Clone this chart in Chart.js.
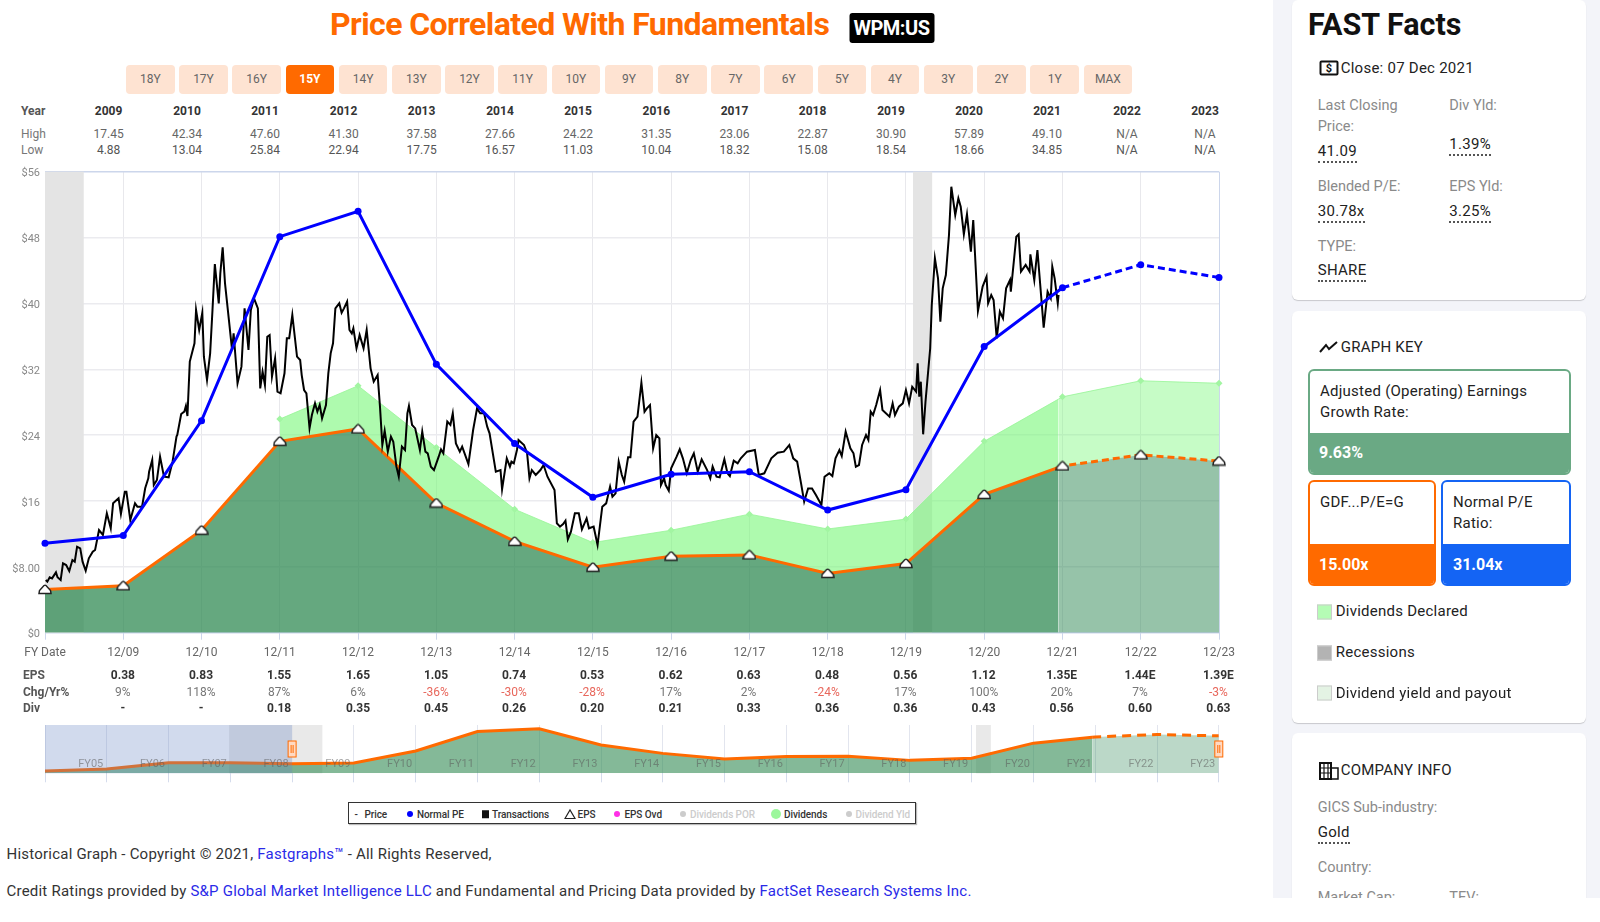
<!DOCTYPE html>
<html>
<head>
<meta charset="utf-8">
<title>Price Correlated With Fundamentals</title>
<script src="https://cdn.jsdelivr.net/npm/chart.js@4/dist/chart.umd.min.js"></script>
<style>
  html, body { margin: 0; padding: 0; background: #fff; }
  body { width: 1600px; height: 922px; position: relative; overflow: hidden; font-family: Roboto, sans-serif; color: #333; }
  canvas { position: absolute; }
  .t { position: absolute; white-space: nowrap; transform: translateY(-50%); }
  .c { position: absolute; white-space: nowrap; transform: translate(-50%, -50%); }
  .btn { position: absolute; top: 65px; width: 48.6px; height: 29px; line-height: 29px; text-align: center; font-size: 12px; color: #666; background: #fee3d2; border-radius: 4px; }
  .btn.on { background: #ff6a00; color: #fff; font-weight: 700; }
  #side { position: absolute; left: 1273px; top: 0; width: 327px; height: 898px; background: #f3f4f9; overflow: hidden; }
  .card { position: absolute; left: 19px; width: 294px; background: #fff; border-radius: 6px; box-shadow: 0 1px 1px rgba(0,0,0,.18); }
  .box { position: absolute; box-sizing: border-box; border: 2px solid; border-radius: 6px; overflow: hidden; background: #fff; }
  .val { position: absolute; font-size: 15px; line-height: 18px; height: 19px; color: #222; letter-spacing: .3px; border-bottom: 2px dotted #555; }
  .lg { position: absolute; top: 814px; transform: translateY(-50%); font-size: 10px; font-weight: 500; color: #333; white-space: nowrap; letter-spacing: -.08px; }
  .lg.off { color: #ccc; }
  .dot { position: absolute; border-radius: 50%; transform: translate(-50%, -50%); top: 814px; }
  a { color: #2a2ae8; text-decoration: none; }
</style>
</head>
<body>
<canvas id="mainChart" width="1273" height="510" style="left:0;top:160px"></canvas>
<canvas id="navChart" width="1273" height="75" style="left:0;top:715px"></canvas>
<div id="page"></div>
<div id="side"></div>
<script>
// chart data
const rangeButtons = ['18Y','17Y','16Y','15Y','14Y','13Y','12Y','11Y','10Y','9Y','8Y','7Y','6Y','5Y','4Y','3Y','2Y','1Y','MAX'];
const tableYears = ['2009','2010','2011','2012','2013','2014','2015','2016','2017','2018','2019','2020','2021','2022','2023'];
const tableHigh = ['17.45','42.34','47.60','41.30','37.58','27.66','24.22','31.35','23.06','22.87','30.90','57.89','49.10','N/A','N/A'];
const tableLow = ['4.88','13.04','25.84','22.94','17.75','16.57','11.03','10.04','18.32','15.08','18.54','18.66','34.85','N/A','N/A'];
const epsRow = ['0.38','0.83','1.55','1.65','1.05','0.74','0.53','0.62','0.63','0.48','0.56','1.12','1.35E','1.44E','1.39E'];
const chgRow = ['9%','118%','87%','6%','-36%','-30%','-28%','17%','2%','-24%','17%','100%','20%','7%','-3%'];
const divRow = ['-','-','0.18','0.35','0.45','0.26','0.20','0.21','0.33','0.36','0.36','0.43','0.56','0.60','0.63'];

const fyYears = [2008,2009,2010,2011,2012,2013,2014,2015,2016,2017,2018,2019,2020,2021,2022,2023];
const fairValue = [5.25,5.7,12.45,23.25,24.75,15.75,11.1,7.95,9.3,9.45,7.2,8.4,16.8,20.25,21.6,20.85];
const divTop = [null,null,null,25.95,30,22.5,15,10.95,12.45,14.4,12.6,13.8,23.25,28.65,30.6,30.3];
const normalPE = [10.86,11.8,25.76,48.11,51.2,32.6,22.97,16.45,19.24,19.56,14.9,17.38,34.76,41.9,44.7,43.15];
const zoneEdge = 2020.95, fairAtEdge = 20.08, divAtEdge = 28.38;
const recessions = [[2008,2008.495],[2019.09,2019.335]];

const priceX = [2008.01,2008.03,2008.06,2008.09,2008.14,2008.16,2008.20,2008.23,2008.27,2008.31,2008.35,2008.38,2008.41,2008.45,2008.48,2008.52,2008.56,2008.61,2008.64,2008.69,2008.74,2008.79,2008.84,2008.87,2008.94,2008.97,
  2009.02,2009.04,2009.09,2009.15,2009.18,2009.24,2009.28,2009.32,2009.33,2009.37,2009.39,2009.43,2009.47,2009.52,2009.58,2009.63,2009.68,2009.69,2009.74,2009.78,2009.80,2009.82,2009.85,2009.91,2009.93,2009.97,
  2010.01,2010.03,2010.07,2010.11,2010.14,2010.17,2010.22,2010.24,2010.27,2010.30,2010.35,2010.39,2010.41,2010.46,2010.51,2010.55,2010.60,2010.63,2010.67,2010.72,2010.75,2010.78,2010.81,2010.84,2010.87,2010.90,2010.94,2010.97,
  2011.01,2011.06,2011.09,2011.12,2011.16,2011.22,2011.26,2011.28,2011.31,2011.34,2011.38,2011.41,2011.45,2011.48,2011.51,2011.54,2011.59,2011.62,2011.65,2011.68,2011.71,2011.76,2011.79,2011.82,2011.86,2011.89,2011.92,2011.94,2011.98,
  2012.02,2012.07,2012.11,2012.16,2012.20,2012.25,2012.28,2012.31,2012.34,2012.38,2012.42,2012.45,2012.49,2012.52,2012.56,2012.60,2012.63,2012.65,2012.69,2012.73,2012.79,2012.82,2012.86,2012.89,2012.93,2012.97,
  2013.03,2013.06,2013.09,2013.14,2013.18,2013.21,2013.25,2013.30,2013.33,2013.41,2013.47,2013.52,2013.56,2013.61,2013.65,2013.68,2013.76,2013.82,2013.84,2013.90,2013.94,2013.96,2013.99,
  2014.03,2014.05,2014.12,2014.16,2014.19,2014.22,2014.27,2014.33,2014.37,2014.42,2014.51,2014.54,2014.58,2014.62,2014.65,2014.68,2014.72,2014.77,2014.82,2014.86,2014.92,2014.95,
  2015.01,2015.06,2015.12,2015.17,2015.22,2015.25,2015.29,2015.33,2015.37,2015.40,2015.45,2015.48,2015.52,2015.57,2015.62,2015.66,2015.69,2015.73,2015.77,2015.81,2015.85,2015.87,2015.91,2015.93,2015.97,
  2016.00,2016.07,2016.11,2016.15,2016.20,2016.25,2016.29,2016.34,2016.39,2016.46,2016.50,2016.53,2016.58,2016.62,2016.68,2016.72,2016.75,2016.80,2016.85,2016.89,2016.97,
  2017.07,2017.12,2017.19,2017.28,2017.36,2017.44,2017.51,2017.56,2017.61,2017.66,2017.70,2017.75,2017.80,2017.85,2017.92,2017.96,
  2018.02,2018.06,2018.10,2018.15,2018.18,2018.23,2018.29,2018.33,2018.36,2018.40,2018.44,2018.49,2018.52,2018.55,2018.58,2018.62,2018.67,2018.70,2018.79,2018.83,2018.86,2018.91,2018.96,
  2019.00,2019.04,2019.08,2019.13,2019.15,2019.17,2019.19,2019.22,2019.25,2019.31,2019.33,2019.37,2019.41,2019.44,2019.47,2019.51,2019.55,2019.58,2019.63,2019.67,2019.70,2019.74,2019.78,2019.83,2019.86,2019.92,2019.98,
  2020.03,2020.05,2020.09,2020.12,2020.16,2020.20,2020.24,2020.28,2020.33,2020.34,2020.41,2020.44,2020.47,2020.53,2020.58,2020.59,2020.64,2020.68,2020.76,2020.81,2020.85,2020.87,2020.90,2020.94,2020.95];
const priceY = [6.40,6.20,6.73,6.60,7.33,6.73,6.40,8.43,8.22,7.50,8.83,8.63,10.45,10.25,8.63,7.53,9.03,9.84,10.05,12.47,11.87,14.50,12.68,15.72,16.32,14.42,
  17.13,17.13,13.69,15.72,15.31,15.31,17.54,18.75,19.56,20.98,17.94,18.55,21.38,18.95,18.87,20.78,23.82,24.02,26.57,26.85,27.54,26.32,32.93,35.15,39.20,36.77,
  38.87,33.53,30.70,33.94,39.20,44.79,40.01,43.65,46.81,42.44,37.98,34.34,36.37,30.29,32.32,39.40,34.34,39.20,40.62,39.40,29.68,31.71,30.09,35.96,36.16,31.10,33.33,29.28,
  29.08,31.51,35.76,35.76,38.60,33.53,33.13,31.30,29.48,29.08,24.83,26.44,27.86,26.85,27.66,26.04,27.66,31.51,33.93,35.15,39.40,40.01,38.87,39.40,40.21,36.77,36.36,36.97,34.54,
  36.16,34.54,36.77,32.11,30.49,31.30,27.46,22.80,24.54,21.99,23.81,23.20,20.17,18.96,22.60,22.19,26.65,27.54,25.23,24.82,22.19,24.42,21.99,21.79,20.17,19.76,
  21.38,22.27,21.79,25.64,25.23,26.65,23.00,21.99,22.60,20.49,24.62,27.25,26.65,26.65,25.03,24.22,19.56,19.76,17.41,21.18,20.17,20.78,20.57,
  22.19,23.41,22.80,21.79,18.75,19.76,19.16,19.76,20.37,18.95,17.33,13.29,12.88,13.20,13.61,11.34,12.27,14.50,14.50,12.56,13.89,12.68,
  12.88,10.65,15.31,15.71,17.74,16.53,16.93,20.78,19.16,18.35,21.30,21.30,25.64,26.24,30.37,26.85,27.25,27.66,22.39,24.01,23.61,17.94,18.75,17.94,17.25,
  19.97,21.38,22.27,21.18,19.36,20.98,21.79,19.56,21.06,19.76,18.75,20.17,18.95,18.87,21.06,19.36,19.03,20.90,20.57,21.18,21.99,
  22.19,19.16,19.36,21.18,21.87,21.99,22.80,21.18,20.78,18.14,15.92,17.53,17.53,16.72,15.51,18.95,
  19.36,19.03,21.18,22.19,21.46,24.42,22.39,21.79,20.17,20.37,22.80,24.01,23.41,26.85,26.44,27.66,29.48,27.06,26.24,27.86,26.44,27.46,27.86,
  29.48,27.86,29.88,29.28,32.72,28.67,30.49,24.10,28.07,34.55,39.81,45.48,43.05,37.78,41.83,43.45,48.31,54.18,50.74,52.77,51.76,48.39,50.82,46.28,50.13,39.08,42.04,
  43.25,40.01,41.02,40.42,35.76,39.00,38.19,41.83,42.84,41.43,48.11,48.39,43.86,44.67,43.86,45.96,42.84,46.49,37.06,41.43,40.62,44.47,43.05,40.01,41.02];

// navigator strip: whole history, FY05 to FY23
const navYears = [2004,2005,2006,2007,2008,2009,2010,2011,2012,2013,2014,2015,2016,2017,2018,2019,2020];
const navValue = [1.3,2.4,5.9,5.9,5.25,5.7,12.45,23.25,24.75,15.75,11.1,7.95,9.3,9.45,7.2,8.4,16.8];
const navEstYears = [2021,2022,2023];
const navEstValue = [20.25,21.6,20.85];
const navRecessions = [[2006.98,2008.49],[2019.07,2019.31]];
const navLabels = ['FY05','FY06','FY07','FY08','FY09','FY10','FY11','FY12','FY13','FY14','FY15','FY16','FY17','FY18','FY19','FY20','FY21','FY22','FY23'];

// ---------- text around the charts ----------
const page = document.getElementById('page');
const side = document.getElementById('side');

function put(parent, cls, text, x, y, css) {
  const d = document.createElement('div');
  d.className = cls;
  d.textContent = text;
  d.style.cssText = `left:${x}px;top:${y}px;${css || ''}`;
  parent.appendChild(d);
  return d;
}

put(page, 't', 'Price Correlated With Fundamentals', 330, 23.5, 'font-size:32px;font-weight:700;color:#ff6a00;letter-spacing:-.58px');
put(page, 'c', 'WPM:US', 891.5, 28, 'background:#000;color:#fff;font-size:20px;font-weight:700;border-radius:3px;width:85px;height:30px;line-height:30px;text-align:center;letter-spacing:-.5px');

rangeButtons.forEach((b, i) => {
  const d = document.createElement('div');
  d.className = 'btn' + (b === '15Y' ? ' on' : '');
  d.style.left = (126 + i * 53.2) + 'px';
  d.textContent = b;
  page.appendChild(d);
});

const tableX = [108.6,187,265,343.6,421.6,500,578,656.3,734.5,812.6,891,969,1047,1127,1205];
const rowX = [122.9,201,279.2,358,436,514,592,670.6,748.6,827,905.3,983.7,1061.6,1140,1218.4];
put(page, 't', 'Year', 21, 111, 'font-size:12px;font-weight:700;color:#555');
put(page, 't', 'High', 21, 134, 'font-size:12px;color:#777');
put(page, 't', 'Low', 21, 150, 'font-size:12px;color:#777');
tableYears.forEach((y, i) => {
  put(page, 'c', y, tableX[i], 111, 'font-size:12px;font-weight:700;color:#333');
  put(page, 'c', tableHigh[i], tableX[i], 134, 'font-size:12px;color:#666');
  put(page, 'c', tableLow[i], tableX[i], 150, 'font-size:12px;color:#555');
});
put(page, 't', 'EPS', 23, 675, 'font-size:12px;font-weight:700;color:#555');
put(page, 't', 'Chg/Yr%', 23, 691.7, 'font-size:12px;font-weight:700;color:#555');
put(page, 't', 'Div', 23, 708.3, 'font-size:12px;font-weight:700;color:#555');
rowX.forEach((x, i) => {
  put(page, 'c', epsRow[i], x, 675, 'font-size:12px;font-weight:700;color:#333');
  put(page, 'c', chgRow[i], x, 691.7, 'font-size:12px;color:' + (chgRow[i][0] === '-' ? '#e8675c' : '#777'));
  put(page, 'c', divRow[i], x, 708.3, 'font-size:12px;font-weight:700;color:#333');
});

// legend box
put(page, 't', '', 347.8, 813.3, 'width:566px;height:20px;border:1.5px solid #333;box-shadow:1px 1px 1px #bbb');
[['- ', 354.5], ['Price', 364.5], ['Normal PE', 417], ['Transactions', 492], ['EPS', 577.6], ['EPS Ovd', 624.5]].forEach(l => put(page, 'lg', l[0], l[1], 814));
put(page, 'lg off', 'Dividends POR', 690, 814);
put(page, 'lg', 'Dividends', 784, 814);
put(page, 'lg off', 'Dividend Yld', 855.5, 814);
[[410, '#0000ff', 6], [617, '#ff2fe6', 6], [683, '#ccc', 6], [776, '#9cf79c', 10], [849, '#ccc', 6]].forEach(l => {
  put(page, 'dot', '', l[0], 814, `background:${l[1]};width:${l[2]}px;height:${l[2]}px`);
});
put(page, 't', '', 481.6, 814, 'width:7.5px;height:7.5px;background:#111');
page.insertAdjacentHTML('beforeend', '<svg style="position:absolute;left:564px;top:808px" width="12" height="12"><path d="M1 10.5 L6 2 L11 10.5 Z" fill="#fff" stroke="#222" stroke-width="1.2"/></svg>');

// footer
const foot1 = put(page, 't', '', 6.5, 854, 'font-size:15px;color:#333;letter-spacing:.22px');
foot1.innerHTML = 'Historical Graph - Copyright © 2021, <a>Fastgraphs™</a> - All Rights Reserved,';
const foot2 = put(page, 't', '', 6.5, 890.7, 'font-size:15px;color:#333;letter-spacing:.22px');
foot2.innerHTML = 'Credit Ratings provided by <a>S&amp;P Global Market Intelligence LLC</a> and Fundamental and Pricing Data provided by <a>FactSet Research Systems Inc.</a>';

// ---------- sidebar, coordinates relative to #side (x-1273) ----------
[[0, 300], [311, 411.7], [733, 200]].forEach(c => {
  const d = document.createElement('div');
  d.className = 'card';
  d.style.top = c[0] + 'px';
  d.style.height = c[1] + 'px';
  side.appendChild(d);
});
const lbl = (txt, x, y) => put(side, 't', txt, x - 1273, y, 'font-size:14.5px;color:#8a8a8a');
const val = (txt, x, y) => put(side, 'val', txt, x - 1273, y - 9);
const head = (txt, y) => put(side, 't', txt, 1340.7 - 1273, y, 'font-size:15px;color:#222;letter-spacing:.25px');

put(side, 't', 'FAST Facts', 1308 - 1273, 24, 'font-size:30.5px;font-weight:700;color:#111');
head('Close: 07 Dec 2021', 68);
put(side, 'c', '$', 1329 - 1273, 67.5, 'box-sizing:border-box;width:19px;height:15px;line-height:12px;border:2px solid #111;border-radius:2px;font-size:11px;font-weight:700;text-align:center;color:#111');
lbl('Last Closing', 1317.7, 105); lbl('Price:', 1317.7, 125.7); val('41.09', 1317.7, 151);
lbl('Div Yld:', 1449.3, 105); val('1.39%', 1449.3, 144);
lbl('Blended P/E:', 1317.7, 185.7); val('30.78x', 1317.7, 210.7);
lbl('EPS Yld:', 1449.3, 185.7); val('3.25%', 1449.3, 210.7);
lbl('TYPE:', 1317.7, 245.7); val('SHARE', 1317.7, 270.3);

head('GRAPH KEY', 346.7);
side.insertAdjacentHTML('beforeend', '<svg style="position:absolute;left:46px;top:340px" width="19" height="14"><polyline points="1,12 7,5 10,9 18,2" fill="none" stroke="#111" stroke-width="2"/></svg>');

function keyBox(x0, x1, y0, y1, split, color, lines, value, textX, valueX, textY) {
  const b = document.createElement('div');
  b.className = 'box';
  b.style.cssText = `left:${x0 - 1273}px;top:${y0}px;width:${x1 - x0}px;height:${y1 - y0}px;border-color:${color}`;
  b.insertAdjacentHTML('beforeend', `<div style="position:absolute;left:-2px;right:-2px;bottom:-2px;top:${split - y0 - 2}px;background:${color}"></div>`);
  side.appendChild(b);
  lines.forEach((l, i) => put(side, 't', l, textX - 1273, textY[i], 'font-size:15px;color:#222;letter-spacing:.25px'));
  put(side, 't', value, valueX - 1273, (split + y1) / 2 - 1.5, 'font-size:16px;font-weight:700;color:#fff');
}
keyBox(1308.3, 1570.7, 369, 475, 432.7, '#6aa984', ['Adjusted (Operating) Earnings', 'Growth Rate:'], '9.63%', 1320, 1319, [391, 412]);
keyBox(1308.3, 1436, 480, 586, 544, '#ff6a00', ['GDF...P/E=G'], '15.00x', 1320, 1319, [502]);
keyBox(1441.3, 1570.7, 480, 586, 544, '#1464f4', ['Normal P/E', 'Ratio:'], '31.04x', 1453, 1453, [502, 523.4]);

[['Dividends Declared', 611, '#b5fcb5'], ['Recessions', 652.3, '#b3b3b3'], ['Dividend yield and payout', 692.5, '#e4f3e4']].forEach(k => {
  put(side, 't', '', 1317.3 - 1273, k[1] + 0.5, `box-sizing:border-box;width:15px;height:15px;background:${k[2]};border:1px solid #ccc`);
  put(side, 't', k[0], 1335.7 - 1273, k[1], 'font-size:15px;color:#222;letter-spacing:.25px');
});

head('COMPANY INFO', 770.3);
side.insertAdjacentHTML('beforeend', '<svg style="position:absolute;left:46px;top:762px" width="20" height="18"><rect x="1" y="1" width="11" height="16" fill="none" stroke="#111" stroke-width="2"/><rect x="12" y="6" width="7" height="11" fill="none" stroke="#111" stroke-width="1.5"/><path d="M1 6H12M1 11H12M5 1V17M9 1V17" stroke="#111" stroke-width="1.2"/></svg>');
lbl('GICS Sub-industry:', 1317.7, 806.7); val('Gold', 1317.7, 831.7);
lbl('Country:', 1317.7, 866.7);
lbl('Market Cap:', 1317.7, 897); lbl('TEV:', 1449.3, 897);

// ---------- charts ----------
const xy = (xs, ys) => xs.map((x, i) => ({ x, y: ys[i] }));
const upToEdge = (ys, edgeVal) => xy(fyYears, ys).filter(p => p.x <= 2020 && p.y !== null).concat({ x: zoneEdge, y: edgeVal });
const afterEdge = (ys, edgeVal) => [{ x: zoneEdge, y: edgeVal }].concat(xy(fyYears, ys).filter(p => p.x >= 2021));
const onYear = r => ctx => (ctx.raw && Number.isInteger(ctx.raw.x) ? r : 0);

// house-shaped EPS marker
const epsMarker = document.createElement('canvas');
epsMarker.width = 14; epsMarker.height = 11;
{
  const m = epsMarker.getContext('2d');
  m.beginPath();
  m.moveTo(1, 9.5); m.lineTo(1.5, 6.5); m.lineTo(6, 1.5); m.quadraticCurveTo(7, .8, 8, 1.5);
  m.lineTo(12.5, 6.5); m.lineTo(13, 9.5); m.closePath();
  m.fillStyle = '#fff'; m.fill();
  m.strokeStyle = '#222'; m.lineWidth = 1.5; m.stroke();
}

const bands = {
  id: 'bands',
  beforeDatasetsDraw(chart, args, opts) {
    const { ctx, chartArea: a, scales: { x } } = chart;
    ctx.save();
    ctx.fillStyle = opts.color;
    opts.ranges.forEach(r => {
      const x0 = x.getPixelForValue(r[0]);
      ctx.fillRect(x0, a.top, x.getPixelForValue(r[1]) - x0, a.bottom - a.top);
    });
    ctx.restore();
  },
};

const ORANGE = '#ff6a00', BLUE = '#0000ff';
const DARK = 'rgba(50,139,84,.75)', DARK_EST = 'rgba(45,135,83,.5)';
const DIV = 'rgba(120,247,120,.6)', DIV_EST = 'rgba(120,247,120,.42)';

new Chart(document.getElementById('mainChart'), {
  type: 'line',
  data: {
    datasets: [
      { label: 'Dividends', data: upToEdge(divTop, divAtEdge), fill: { target: 2 }, backgroundColor: DIV, borderColor: 'rgba(150,245,150,.8)', borderWidth: 1,
        pointStyle: 'rectRot', pointRadius: onYear(3.5), pointBackgroundColor: '#a2f5a2', pointBorderWidth: 0, order: 9, clip: false },
      { label: 'Dividends est', data: afterEdge(divTop, divAtEdge), fill: { target: 3 }, backgroundColor: DIV_EST, borderColor: 'rgba(150,245,150,.8)', borderWidth: 1,
        pointStyle: 'rectRot', pointRadius: onYear(3.5), pointBackgroundColor: '#a2f5a2', pointBorderWidth: 0, order: 9, clip: false },
      { label: 'Fundamentals', data: upToEdge(fairValue, fairAtEdge), fill: 'origin', backgroundColor: DARK, borderColor: ORANGE, borderWidth: 3, pointRadius: 0, order: 8 },
      { label: 'Fundamentals est', data: afterEdge(fairValue, fairAtEdge), fill: 'origin', backgroundColor: DARK_EST, borderColor: ORANGE, borderWidth: 3, borderDash: [7, 4], pointRadius: 0, order: 8 },
      { label: 'Price', data: xy(priceX, priceY), borderColor: '#000', borderWidth: 2, pointRadius: 0, fill: false, order: 5 },
      { label: 'Normal PE', data: xy(fyYears, normalPE), borderColor: BLUE, backgroundColor: BLUE, borderWidth: 3, pointRadius: 3.5, pointBorderWidth: 0, fill: false, clip: false,
        segment: { borderDash: c => (c.p0.parsed.x >= 2021 ? [7, 4] : undefined) }, order: 3 },
      { label: 'EPS', data: xy(fyYears, fairValue), showLine: false, pointStyle: epsMarker, clip: false, order: 1 },
    ],
  },
  options: {
    responsive: false,
    animation: false,
    layout: { padding: { top: 11.7, right: 54, left: 0, bottom: 0 } },
    plugins: { legend: { display: false }, tooltip: { enabled: false }, bands: { color: '#e4e4e4', ranges: recessions } },
    scales: {
      x: {
        type: 'linear', min: 2008, max: 2023,
        afterFit: s => { s.height = 37.3; },
        border: { display: false },
        grid: { color: c => (c.tick && c.tick.value === 2023 ? '#ccd6eb' : '#e8e8ec'), tickColor: '#ccd6eb', tickLength: 7 },
        ticks: { stepSize: 1, padding: 6, maxRotation: 0, autoSkip: false, color: '#666', font: { family: 'Roboto', size: 12 },
          callback: v => (v === 2008 ? 'FY Date' : '12/' + String(v).slice(2)) },
      },
      y: {
        min: 0, max: 56,
        afterFit: s => { s.width = 45; },
        border: { display: false },
        grid: { color: c => (c.tick && (c.tick.value === 56 || c.tick.value === 0) ? '#ccd6eb' : '#ebebef'), lineWidth: 1.5, drawTicks: false },
        ticks: { stepSize: 8, padding: 5, labelOffset: 2, color: '#888', font: { family: 'Roboto', size: 11 },
          callback: v => (v === 8 ? '$8.00' : '$' + v) },
      },
    },
  },
  plugins: [bands],
});

// navigator overlay: selection mask, FY labels and the two handles
const navOverlay = {
  id: 'navOverlay',
  afterDatasetsDraw(chart) {
    const { ctx, chartArea: a, scales: { x } } = chart;
    ctx.save();
    const px = x.getPixelForValue(2008);
    ctx.fillStyle = 'rgba(102,133,194,.3)';
    ctx.fillRect(a.left, a.top, px - a.left, a.bottom - a.top);
    ctx.font = '11px Roboto';
    ctx.fillStyle = 'rgba(90,90,90,.55)';
    ctx.textAlign = 'center';
    ctx.textBaseline = 'middle';
    navLabels.forEach((l, i) => ctx.fillText(l, x.getPixelForValue(2004.74 + i), 764.7 - 715));
    [2008, 2023].forEach(v => {
      const hx = x.getPixelForValue(v);
      ctx.fillStyle = '#ffd9c2';
      ctx.strokeStyle = ORANGE;
      ctx.lineWidth = 1;
      ctx.fillRect(hx - 4, 26, 8, 16);
      ctx.strokeRect(hx - 4, 26, 8, 16);
      ctx.beginPath();
      ctx.moveTo(hx - 1, 30); ctx.lineTo(hx - 1, 38);
      ctx.moveTo(hx + 1, 30); ctx.lineTo(hx + 1, 38);
      ctx.stroke();
    });
    ctx.restore();
  },
};

new Chart(document.getElementById('navChart'), {
  type: 'line',
  data: {
    datasets: [
      { data: xy(navYears, navValue).concat({ x: zoneEdge, y: fairAtEdge }), fill: 'origin', backgroundColor: 'rgba(50,139,84,.6)', borderColor: ORANGE, borderWidth: 3, pointRadius: 0 },
      { data: [{ x: zoneEdge, y: fairAtEdge }].concat(xy(navEstYears, navEstValue)), fill: 'origin', backgroundColor: 'rgba(45,135,83,.32)', borderColor: ORANGE, borderWidth: 3, borderDash: [9, 6], pointRadius: 0 },
    ],
  },
  options: {
    responsive: false,
    animation: false,
    layout: { padding: { top: 10, right: 54.2, left: 45, bottom: 0 } },
    plugins: { legend: { display: false }, tooltip: { enabled: false }, bands: { color: '#e9e9e9', ranges: navRecessions } },
    scales: {
      x: {
        type: 'linear', min: 2004, max: 2023,
        afterFit: s => { s.height = 16.7; },
        border: { display: false },
        grid: { color: '#e2e5ee', tickColor: '#d5dcec', tickLength: 9 },
        ticks: { stepSize: 1, display: false },
      },
      y: { display: false, min: 0, max: 26.9 },
    },
  },
  plugins: [bands, navOverlay],
});
</script>
</body>
</html>
